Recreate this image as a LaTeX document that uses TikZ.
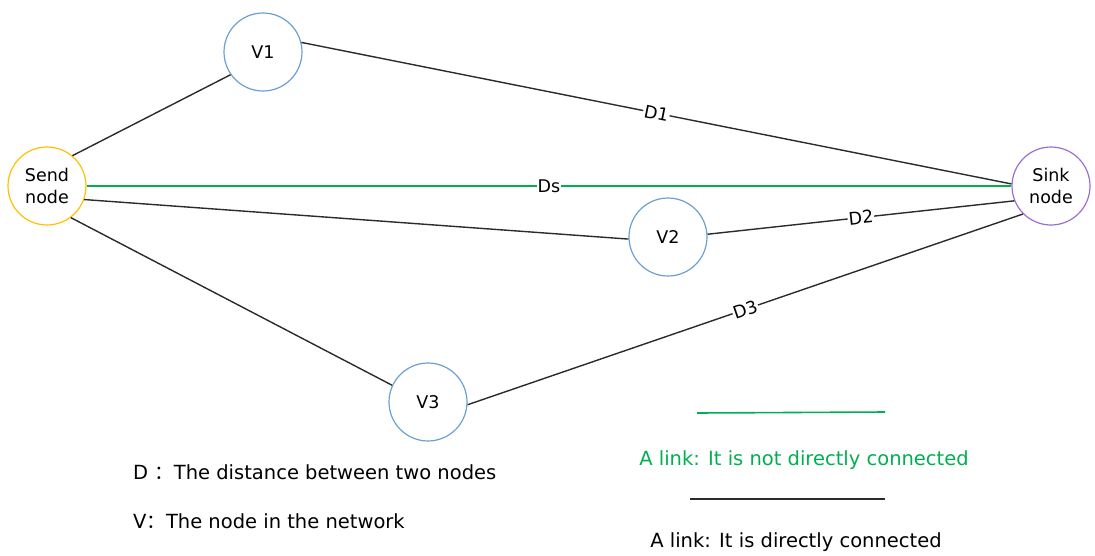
\documentclass[tikz,border=0pt]{standalone}
\usepackage{fontspec}
\setmainfont{DejaVu Sans}
\newfontfamily\cjk{Noto Sans CJK SC}
\definecolor{sendc}{HTML}{FFC000}
\definecolor{sinkc}{HTML}{9B6FCF}
\definecolor{vc}{HTML}{6C9FD3}
\definecolor{linkg}{HTML}{00B050}
\definecolor{linkk}{HTML}{2B2B2B}
\begin{document}
\begin{tikzpicture}[x=1pt,y=-1pt,
  nd/.style={circle,draw,line width=1.2pt,fill=white,minimum size=78pt,inner sep=0pt,align=center,font=\fontsize{17.5}{22}\selectfont},
  lk/.style={draw=linkk,line width=1.4pt},
  gk/.style={draw=linkg,line width=1.6pt},
  lab/.style={midway,sloped,fill=white,inner sep=1pt,font=\fontsize{17.5}{18}\selectfont},
  leg/.style={font=\fontsize{19.5}{20}\selectfont,inner sep=0pt}]
\useasboundingbox (0,0) rectangle (1095,555);
\node[nd,draw=sendc] (send) at (47,186) {Send\\node};
\node[nd,draw=sinkc] (sink) at (1051,186) {Sink\\node};
\node[nd,draw=vc] (v1) at (263,52) {V1};
\node[nd,draw=vc] (v2) at (668,237) {V2};
\node[nd,draw=vc] (v3) at (428,402) {V3};
\draw[lk] (send.50) -- (v1.215);
\draw[lk] (v1.14) -- node[lab]{D1} (sink.177);
\draw[gk] (send.0) -- node[lab]{Ds} (sink.180);
\draw[lk] (send.-20) -- (v2.183);
\draw[lk] (v2.4) -- node[lab]{D2} (sink.202);
\draw[lk] (send.-53) -- (v3.155);
\draw[lk] (v3.-4) -- node[lab]{D3} (sink.225);
% legend
\coordinate (g1) at (697,413);
\coordinate (g2) at (885,412);
\draw[gk] (g1) -- (g2);
\node[leg,text=linkg] (gt) at (804,460) {A link: It is not directly connected};
\coordinate (k1) at (690,499);
\coordinate (k2) at (885,499);
\draw[lk] (k1) -- (k2);
\node[leg] (kt) at (796,542) {A link: It is directly connected};
\node[leg,anchor=west] (dt) at (133,472) {D {\cjk ：}The distance between two nodes};
\node[leg,anchor=west] (vt) at (133,521) {V{\cjk ：}The node in the network};
\end{tikzpicture}
\end{document}
